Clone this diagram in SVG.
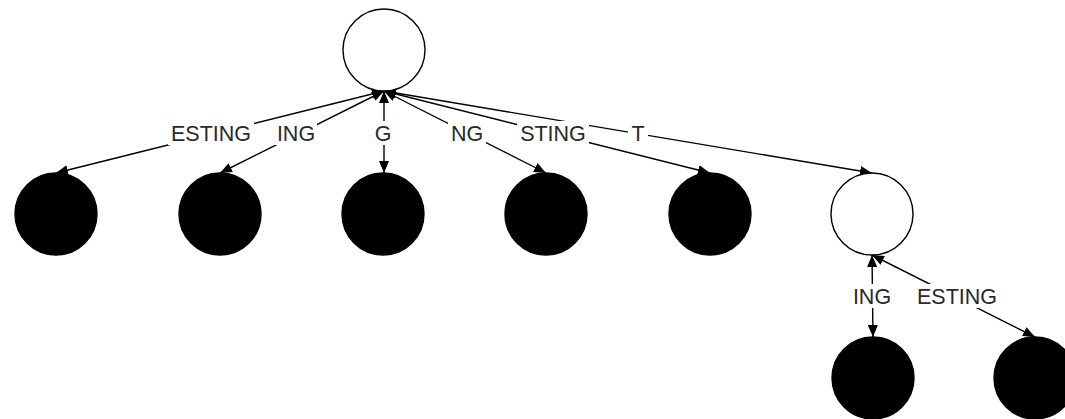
<svg xmlns="http://www.w3.org/2000/svg" width="1065" height="419" viewBox="0 0 1065 419">
<style>
.n{stroke:#000;stroke-width:1.4}
.w{fill:#fff}
.b{fill:#000}
.e{fill:none;stroke:#000;stroke-width:1.4;marker-start:url(#ah);marker-end:url(#ah)}
.lb{fill:#fff}
.t{font-family:"Liberation Sans",Arial,sans-serif;font-size:21.5px;fill:#2a2a2a;text-anchor:middle}
</style>
<defs>
<marker id="ah" viewBox="0 0 12 10" refX="12" refY="5" markerWidth="12" markerHeight="10" markerUnits="userSpaceOnUse" orient="auto-start-reverse">
<path d="M0,0 L12,5 L0,10 z" fill="#000"/>
</marker>
</defs>
<rect width="1065" height="419" fill="#fff"/>
<g id="connectors">
<line class="e" x1="384" y1="91" x2="56" y2="173"/>
<line class="e" x1="384" y1="91" x2="220" y2="173"/>
<line class="e" x1="384" y1="91" x2="384" y2="173"/>
<line class="e" x1="384" y1="91" x2="546" y2="173"/>
<line class="e" x1="384" y1="91" x2="710" y2="173"/>
<line class="e" x1="384" y1="91" x2="872" y2="173"/>
<line class="e" x1="872" y1="255" x2="873" y2="337"/>
<line class="e" x1="872" y1="255" x2="1035" y2="337"/>
</g>
<g id="labels">
<rect class="lb" x="168" y="121" width="86" height="24"/>
<text class="t" x="211" y="141">ESTING</text>
<rect class="lb" x="275" y="121" width="42" height="24"/>
<text class="t" x="296" y="141">ING</text>
<rect class="lb" x="372" y="121" width="22" height="24"/>
<text class="t" x="383" y="141">G</text>
<rect class="lb" x="448" y="121" width="38" height="24"/>
<text class="t" x="467" y="141">NG</text>
<rect class="lb" x="517" y="121" width="72" height="24"/>
<text class="t" x="553" y="141">STING</text>
<rect class="lb" x="628" y="121" width="20" height="24"/>
<text class="t" x="638" y="141">T</text>
<rect class="lb" x="850" y="284" width="44" height="24"/>
<text class="t" x="872" y="304">ING</text>
<rect class="lb" x="914" y="284" width="86" height="24"/>
<text class="t" x="957" y="304">ESTING</text>
</g>
<g id="root"><circle class="n w" cx="384" cy="50" r="41"/></g>
<g id="n1"><circle class="n b" cx="56" cy="214" r="41"/></g>
<g id="n2"><circle class="n b" cx="220" cy="214" r="41"/></g>
<g id="n3"><circle class="n b" cx="383" cy="214" r="41"/></g>
<g id="n4"><circle class="n b" cx="546" cy="214" r="41"/></g>
<g id="n5"><circle class="n b" cx="710" cy="214" r="41"/></g>
<g id="n6"><circle class="n w" cx="872" cy="214" r="41"/></g>
<g id="n7"><circle class="n b" cx="873" cy="378" r="41"/></g>
<g id="n8"><circle class="n b" cx="1035" cy="378" r="41"/></g>
</svg>
